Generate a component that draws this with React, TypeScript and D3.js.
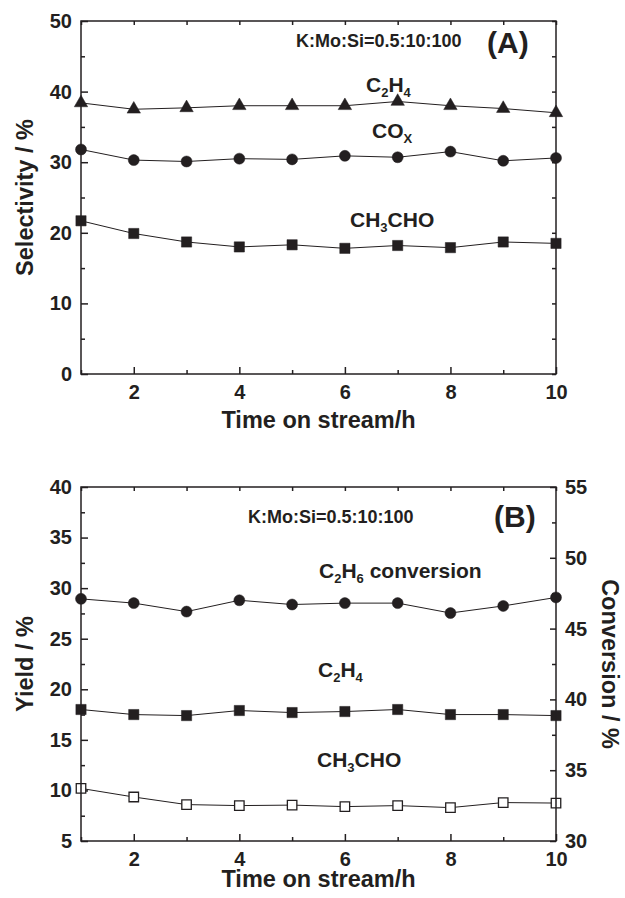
import React, { useEffect, useRef } from "react";
import * as d3 from "d3";

// time on stream (h)
const hours = [1, 2, 3, 4, 5, 6, 7, 8, 9, 10];

// panel A: selectivity (%)
const selC2H4 = [38.4, 37.5, 37.7, 38.0, 38.0, 38.0, 38.6, 38.0, 37.6, 37.0];
const selCOx = [31.8, 30.3, 30.1, 30.5, 30.4, 30.9, 30.7, 31.5, 30.2, 30.6];
const selCH3CHO = [21.7, 19.9, 18.7, 18.0, 18.3, 17.8, 18.2, 17.9, 18.7, 18.5];

// panel B: yield (%) on the left axis, conversion (%) on the right axis
const convC2H6 = [47.1, 46.8, 46.2, 47.0, 46.7, 46.8, 46.8, 46.1, 46.6, 47.2];
const yieldC2H4 = [18.0, 17.5, 17.4, 17.9, 17.7, 17.8, 18.0, 17.5, 17.5, 17.4];
const yieldCH3CHO = [10.2, 9.35, 8.6, 8.5, 8.55, 8.4, 8.5, 8.3, 8.8, 8.75];

// tick labels
const xMajor = [2, 4, 6, 8, 10];
const xMinor = [1, 3, 5, 7, 9];
const selTicks = [0, 10, 20, 30, 40, 50];
const selMinor = [5, 15, 25, 35, 45];
const yieldTicks = [5, 10, 15, 20, 25, 30, 35, 40];
const yieldMinor = [7.5, 12.5, 17.5, 22.5, 27.5, 32.5, 37.5];
const convTicks = [30, 35, 40, 45, 50, 55];
const convMinor = [32.5, 37.5, 42.5, 47.5, 52.5];

const W = 625;
const H = 898;
const FONT = '"Liberation Sans", Arial, Helvetica, sans-serif';
const INK = "#231f20";

const LEFT = 81;
const RIGHT = 556;

function styleAxis(g, size = 20) {
  g.select(".domain").remove();
  g.selectAll("line").attr("stroke", INK).attr("stroke-width", 1.5);
  g.selectAll("text")
    .attr("fill", INK)
    .style("font-family", FONT)
    .style("font-weight", "bold")
    .style("font-size", size + "px");
}

// parts: [text, isSubscript]
function label(g, x, y, parts, size = 21) {
  const t = g
    .append("text")
    .attr("x", x)
    .attr("y", y)
    .attr("fill", INK)
    .style("font-family", FONT)
    .style("font-weight", "bold")
    .style("font-size", size + "px");
  let down = false;
  parts.forEach(([s, sub]) => {
    const dy = sub ? (down ? 0 : 5) : down ? -5 : 0;
    t.append("tspan")
      .attr("dy", dy)
      .style("font-size", sub ? "13px" : null)
      .text(s);
    down = !!sub;
  });
  return t;
}

function axisTitle(g, x, y, text, rot = 0) {
  g.append("text")
    .attr("transform", `translate(${x},${y}) rotate(${rot})`)
    .attr("text-anchor", "middle")
    .attr("fill", INK)
    .style("font-family", FONT)
    .style("font-weight", "bold")
    .style("font-size", "23.5px")
    .text(text);
}

function series(g, x, y, values, symbol, size, filled = true) {
  const pts = hours.map((h, i) => [x(h), y(values[i])]);
  g.append("path")
    .attr("d", d3.line()(pts))
    .attr("fill", "none")
    .attr("stroke", INK)
    .attr("stroke-width", 1);
  g.selectAll(null)
    .data(pts)
    .join("path")
    .attr("transform", (d) => `translate(${d[0]},${d[1]})`)
    .attr("d", d3.symbol().type(symbol).size(size)())
    .attr("fill", filled ? INK : "#fff")
    .attr("stroke", INK)
    .attr("stroke-width", filled ? 0.5 : 1.3);
}

function xAxes(svg, x, top, bottom) {
  const gb = svg.append("g").attr("transform", `translate(0,${bottom})`);
  gb.call(d3.axisBottom(x).tickValues(xMajor).tickSize(-7).tickPadding(11));
  styleAxis(gb);
  const gbm = svg.append("g").attr("transform", `translate(0,${bottom})`);
  gbm.call(d3.axisBottom(x).tickValues(xMinor).tickSize(-4).tickFormat(() => ""));
  styleAxis(gbm);
  const gt = svg.append("g").attr("transform", `translate(0,${top})`);
  gt.call(d3.axisTop(x).tickValues(hours).tickSize(-4).tickFormat(() => ""));
  styleAxis(gt);
}

function frame(svg, top, bottom) {
  svg
    .append("rect")
    .attr("x", LEFT)
    .attr("y", top)
    .attr("width", RIGHT - LEFT)
    .attr("height", bottom - top)
    .attr("fill", "none")
    .attr("stroke", INK)
    .attr("stroke-width", 1.5);
}

export default function App() {
  const ref = useRef(null);

  useEffect(() => {
    const svg = d3.select(ref.current);
    svg.selectAll("*").remove();

    const x = d3.scaleLinear().domain([1, 10]).range([LEFT, RIGHT]);

    // ---- panel A ----
    const aTop = 21;
    const aBot = 374;
    const yA = d3.scaleLinear().domain([0, 50]).range([aBot, aTop]);

    xAxes(svg, x, aTop, aBot);
    const la = svg.append("g").attr("transform", `translate(${LEFT},0)`);
    la.call(d3.axisLeft(yA).tickValues(selTicks).tickSize(-7).tickPadding(9));
    styleAxis(la);
    const lam = svg.append("g").attr("transform", `translate(${LEFT},0)`);
    lam.call(d3.axisLeft(yA).tickValues(selMinor).tickSize(-4).tickFormat(() => ""));
    styleAxis(lam);
    const ra = svg.append("g").attr("transform", `translate(${RIGHT},0)`);
    ra.call(d3.axisRight(yA).tickValues([...selTicks, ...selMinor]).tickSize(-4).tickFormat(() => ""));
    styleAxis(ra);

    series(svg, x, yA, selC2H4, d3.symbolTriangle, 78);
    series(svg, x, yA, selCOx, d3.symbolCircle, 95);
    series(svg, x, yA, selCH3CHO, d3.symbolSquare, 105);
    frame(svg, aTop, aBot);

    label(svg, 296, 47, [["K:Mo:Si=0.5:10:100"]], 18);
    label(svg, 487, 53, [["(A)"]], 30);
    label(svg, 366, 91.5, [["C"], ["2", true], ["H"], ["4", true]]);
    label(svg, 372, 138, [["CO"], ["X", true]]);
    label(svg, 350, 226.5, [["CH"], ["3", true], ["CHO"]]);

    axisTitle(svg, 33, (aTop + aBot) / 2, "Selectivity / %", -90);
    axisTitle(svg, (LEFT + RIGHT) / 2, 428, "Time on stream/h");

    // ---- panel B ----
    const bTop = 487;
    const bBot = 841;
    const yB = d3.scaleLinear().domain([5, 40]).range([bBot, bTop]);
    const yC = d3.scaleLinear().domain([30, 55]).range([bBot, bTop]);

    xAxes(svg, x, bTop, bBot);
    const lb = svg.append("g").attr("transform", `translate(${LEFT},0)`);
    lb.call(d3.axisLeft(yB).tickValues(yieldTicks).tickSize(-7).tickPadding(9));
    styleAxis(lb);
    const lbm = svg.append("g").attr("transform", `translate(${LEFT},0)`);
    lbm.call(d3.axisLeft(yB).tickValues(yieldMinor).tickSize(-4).tickFormat(() => ""));
    styleAxis(lbm);
    const rb = svg.append("g").attr("transform", `translate(${RIGHT},0)`);
    rb.call(d3.axisRight(yC).tickValues(convTicks).tickSize(-6).tickPadding(9));
    styleAxis(rb);
    const rbm = svg.append("g").attr("transform", `translate(${RIGHT},0)`);
    rbm.call(d3.axisRight(yC).tickValues(convMinor).tickSize(-4).tickFormat(() => ""));
    styleAxis(rbm);

    series(svg, x, yC, convC2H6, d3.symbolCircle, 95);
    series(svg, x, yB, yieldC2H4, d3.symbolSquare, 105);
    series(svg, x, yB, yieldCH3CHO, d3.symbolSquare, 90, false);
    frame(svg, bTop, bBot);

    label(svg, 248, 523, [["K:Mo:Si=0.5:10:100"]], 18);
    label(svg, 494, 527, [["(B)"]], 30);
    label(svg, 319, 577.5, [["C"], ["2", true], ["H"], ["6", true], [" conversion"]]);
    label(svg, 318, 677, [["C"], ["2", true], ["H"], ["4", true]]);
    label(svg, 317, 767, [["CH"], ["3", true], ["CHO"]]);

    axisTitle(svg, 33, (bTop + bBot) / 2, "Yield / %", -90);
    axisTitle(svg, 602, (bTop + bBot) / 2, "Conversion / %", 90);
    axisTitle(svg, (LEFT + RIGHT) / 2, 887, "Time on stream/h");
  }, []);

  return (
    <svg
      ref={ref}
      width={W}
      height={H}
      style={{ position: "absolute", left: 0, top: 0, background: "#fff" }}
    />
  );
}
